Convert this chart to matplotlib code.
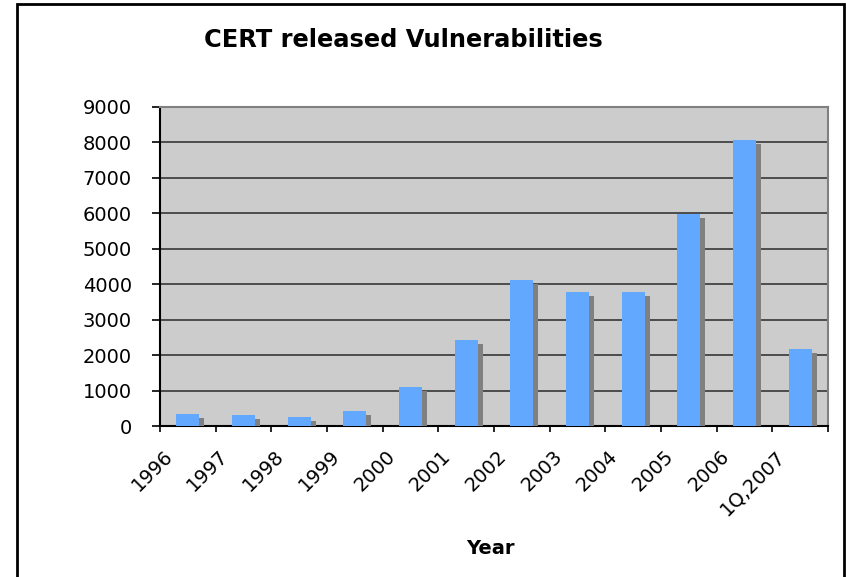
"""
CERT released vulnerabilities - Excel style bar chart with drop shadow
"""
import numpy as np
import matplotlib
matplotlib.use('Agg')
import matplotlib.pyplot as plt
import matplotlib.patheffects as pe
from matplotlib.patches import Rectangle
from matplotlib.transforms import ScaledTranslation


# Data
years = ['1996', '1997', '1998', '1999', '2000', '2001',
         '2002', '2003', '2004', '2005', '2006', '1Q,2007']
vulns = [345, 311, 262, 417, 1090, 2437, 4129, 3784, 3780, 5990, 8064, 2176]
y_ticks = [0, 1000, 2000, 3000, 4000, 5000, 6000, 7000, 8000, 9000]

W, H = 846, 577
fig = plt.figure(figsize=(W / 100, H / 100), dpi=100)
fig.patch.set_facecolor('white')

# plot area in pixels: x 160..828, y 107..426
ax = fig.add_axes([160 / W, 1 - 426 / H, 668 / W, 319 / H])
ax.set_facecolor('#cccccc')

x = np.arange(len(years))
shadow = [pe.SimplePatchShadow(offset=(3.6, -2.9), shadow_rgbFace='#808080', alpha=1.0),
          pe.Normal()]
bars = ax.bar(x, vulns, width=0.41, color='#63a8ff', zorder=3)
for b in bars:
    b.set_path_effects(shadow)

ax.set_xlim(-0.5, len(years) - 0.5)
ax.set_ylim(0, 9000)
ax.set_yticks(y_ticks)
ax.set_yticklabels([str(v) for v in y_ticks])
ax.yaxis.grid(True, color='#2a2a2a', linewidth=1.1)
ax.set_axisbelow(True)

# tick marks between categories, labels at the centres
ax.set_xticks(np.arange(len(years) + 1) - 0.5)
ax.set_xticklabels([])
ax.set_xticks(x, minor=True)
ax.set_xticklabels(years, minor=True, rotation=45, ha='right', va='top',
                   rotation_mode='anchor', fontsize=14, family='DejaVu Sans')
ax.tick_params(axis='x', which='major', length=4.3, width=1.2, direction='out')
ax.tick_params(axis='x', which='minor', length=0, pad=15)
ax.tick_params(axis='y', length=5.8, width=1.2, pad=14.4, labelsize=14)
for lbl in ax.get_xticklabels(minor=True):
    lbl.set_transform(lbl.get_transform() + ScaledTranslation(-25 / 100, 0, fig.dpi_scale_trans))

for side in ['left', 'bottom']:
    ax.spines[side].set_color('black')
    ax.spines[side].set_linewidth(1.5)
for side in ['top', 'right']:
    ax.spines[side].set_color('#808080')
    ax.spines[side].set_linewidth(1.5)

fig.text(403 / W, 1 - 47 / H, 'CERT released Vulnerabilities', ha='center', va='baseline',
         fontsize=17.4, fontweight='bold', family='DejaVu Sans')
fig.text(490 / W, 1 - 554 / H, 'Year', ha='center', va='baseline',
         fontsize=14, fontweight='bold', family='DejaVu Sans')

# chart border
fig.patches.append(Rectangle((17 / W, -0.02), (844 - 17) / W, 1.02 - 4 / H,
                             transform=fig.transFigure, fill=False,
                             edgecolor='black', linewidth=2))

fig.savefig('out.png', dpi=100, facecolor='white')
